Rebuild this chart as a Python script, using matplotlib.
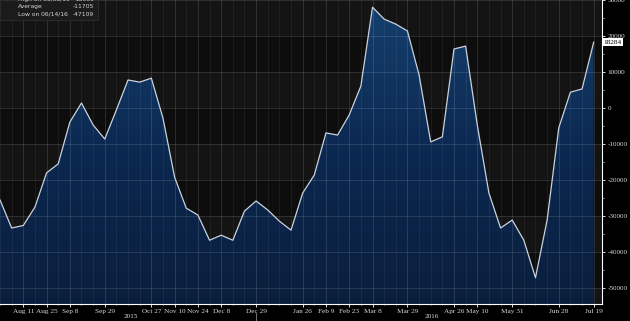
import matplotlib
matplotlib.use("Agg")
import matplotlib.pyplot as plt
import matplotlib.dates as mdates
import matplotlib.transforms as mtransforms
from matplotlib.colors import LinearSegmentedColormap
from matplotlib.patches import Polygon
import numpy as np
import pandas as pd

# weekly series, 28 Jul 2015 .. 19 Jul 2016
dates = pd.date_range("2015-07-28", periods=52, freq="7D")
values = [-25500, -33300, -32600, -27500, -18000, -15500, -3900, 1400, -4700, -8600,
          -500, 7800, 7200, 8300, -2800, -19200, -27800, -29700, -36700, -35300,
          -36700, -28600, -25800, -28300, -31400, -33900, -23600, -18600, -6900, -7500,
          -1900, 6100, 28000, 24700, 23300, 21400, 9200, -9400, -8000, 16400,
          17200, -4700, -23600, -33300, -31100, -36700, -47109, -31100, -5500, 4400,
          5300, 18284]

tick_dates = ["2015-08-11", "2015-08-25", "2015-09-08", "2015-09-29", "2015-10-27",
              "2015-11-10", "2015-11-24", "2015-12-08", "2015-12-29", "2016-01-26",
              "2016-02-09", "2016-02-23", "2016-03-08", "2016-03-29", "2016-04-26",
              "2016-05-10", "2016-05-31", "2016-06-28", "2016-07-19"]
tick_labels = ["Aug 11", "Aug 25", "Sep 8", "Sep 29", "Oct 27", "Nov 10", "Nov 24",
               "Dec 8", "Dec 29", "Jan 26", "Feb 9", "Feb 23", "Mar 8", "Mar 29",
               "Apr 26", "May 10", "May 31", "Jun 28", "Jul 19"]

legend_rows = [("High on 03/08/16", "28000"), ("Average", "-11705"), ("Low on 06/14/16", "-47109")]
last_value = "18284"

y_lo, y_hi = -54400, 30000
x_lo = mdates.date2num(pd.Timestamp("2015-07-28"))
x_hi = mdates.date2num(pd.Timestamp("2016-07-24"))
x = mdates.date2num(dates)

fig = plt.figure(figsize=(6.3, 3.21), dpi=100, facecolor="black")
ax = fig.add_axes([0, 17 / 321, 602 / 630, 304 / 321])
ax.set_facecolor("#0c0c0c")

# alternating background bands
band_cols = ["#141414", "#0d0d0d"]
k = 0
for top in range(30000, -60000, -10000):
    ax.axhspan(top - 10000, top, color=band_cols[k % 2], zorder=0, lw=0)
    k += 1

# gradient fill under the line
cmap = LinearSegmentedColormap.from_list("fillgrad", ["#0a1f3d", "#0b2850", "#15406e"])
grad = np.linspace(0, 1, 256).reshape(-1, 1)
im = ax.imshow(grad, extent=[x_lo, x_hi, y_lo, y_hi], aspect="auto", cmap=cmap,
               origin="lower", zorder=1)
verts = list(zip(x, values)) + [(x[-1], y_lo), (x[0], y_lo)]
poly = Polygon(verts, closed=True, facecolor="none", edgecolor="none")
ax.add_patch(poly)
im.set_clip_path(poly)

ax.plot(x, values, color="#c9d2de", lw=0.9, zorder=4)

# grid
for v in range(-50000, 30001, 10000):
    ax.axhline(v, color="white", alpha=0.14, lw=0.6, zorder=3)
for xv in x:
    ax.axvline(xv, color="white", alpha=0.07, lw=0.6, zorder=3)
for d in tick_dates:
    ax.axvline(mdates.date2num(pd.Timestamp(d)), color="white", alpha=0.08, lw=0.6, zorder=3)

ax.set_xlim(x_lo, x_hi)
ax.set_ylim(y_lo, y_hi)

for s in ["left", "top"]:
    ax.spines[s].set_visible(False)
for s in ["right", "bottom"]:
    ax.spines[s].set_color("white")
    ax.spines[s].set_linewidth(0.8)

tfont = dict(family="Liberation Serif", size=5.2)
ax.set_xticks(mdates.date2num(pd.to_datetime(tick_dates)))
ax.set_xticklabels(tick_labels, color="#d8d8d8", **tfont)
ax.set_xticks(x, minor=True)
ax.tick_params(axis="x", which="major", colors="white", length=2, width=0.6, pad=1.5, labelcolor="#d8d8d8")
ax.tick_params(axis="x", which="minor", colors="white", length=1, width=0.4)

ax.yaxis.tick_right()
yt = list(range(-50000, 30001, 10000))
ax.set_yticks(yt)
ax.set_yticklabels([str(v) for v in yt], color="#d8d8d8", **tfont)
ax.set_yticks(range(-50000, 30001, 5000), minor=True)
ax.tick_params(axis="y", which="major", colors="white", length=2.5, width=0.6, pad=1.5, labelcolor="#d8d8d8")
ax.tick_params(axis="y", which="minor", colors="white", length=1.2, width=0.4)

# year labels under the axis
trans = mtransforms.blended_transform_factory(ax.transData, ax.transAxes)
jan1 = mdates.date2num(pd.Timestamp("2016-01-01"))
ax.text((x_lo + jan1) / 2, -0.042, "2015", transform=trans, ha="center", va="center",
        color="#d8d8d8", clip_on=False, **tfont)
ax.text((jan1 + x_hi) / 2, -0.042, "2016", transform=trans, ha="center", va="center",
        color="#d8d8d8", clip_on=False, **tfont)
ax.plot([jan1 - 3, jan1 - 3], [-0.03, -0.056], transform=trans, color="#888888", lw=0.6, clip_on=False)

# last value tag
trans_y = mtransforms.blended_transform_factory(ax.transAxes, ax.transData)
ax.text(1.003, float(last_value), last_value, transform=trans_y, ha="left", va="center",
        color="black", family="Liberation Serif", size=5.2, clip_on=False, zorder=6,
        bbox=dict(boxstyle="square,pad=0.2", fc="white", ec="none"))

# legend box at top left
fig.patches.append(plt.Rectangle((0, 1 - 20 / 321), 98 / 630, 20 / 321, transform=fig.transFigure,
                                 facecolor="#1b1b1b", edgecolor="#2e2e2e", lw=0.6, zorder=5))
lfont = dict(family="DejaVu Sans", size=4.3, color="#d6d6d6")
row_y = [-1, 6.5, 14]
for (name, val), yy in zip(legend_rows, row_y):
    fy = 1 - yy / 321
    fig.text(18 / 630, fy, name, ha="left", va="center", zorder=6, **lfont)
    fig.text(94 / 630, fy, val, ha="right", va="center", zorder=6, **lfont)
fig.lines.append(plt.Line2D([7 / 630, 7 / 630], [1, 1 - 12 / 321], transform=fig.transFigure,
                            color="#bbbbbb", lw=0.6))
fig.text(11 / 630, 1 - 6.5 / 321, "+", ha="center", va="center", **lfont)
fig.text(12 / 630, 1 - 14 / 321, "\u22a5", ha="center", va="center", **lfont)

fig.savefig("out.png", dpi=100, facecolor="black")
